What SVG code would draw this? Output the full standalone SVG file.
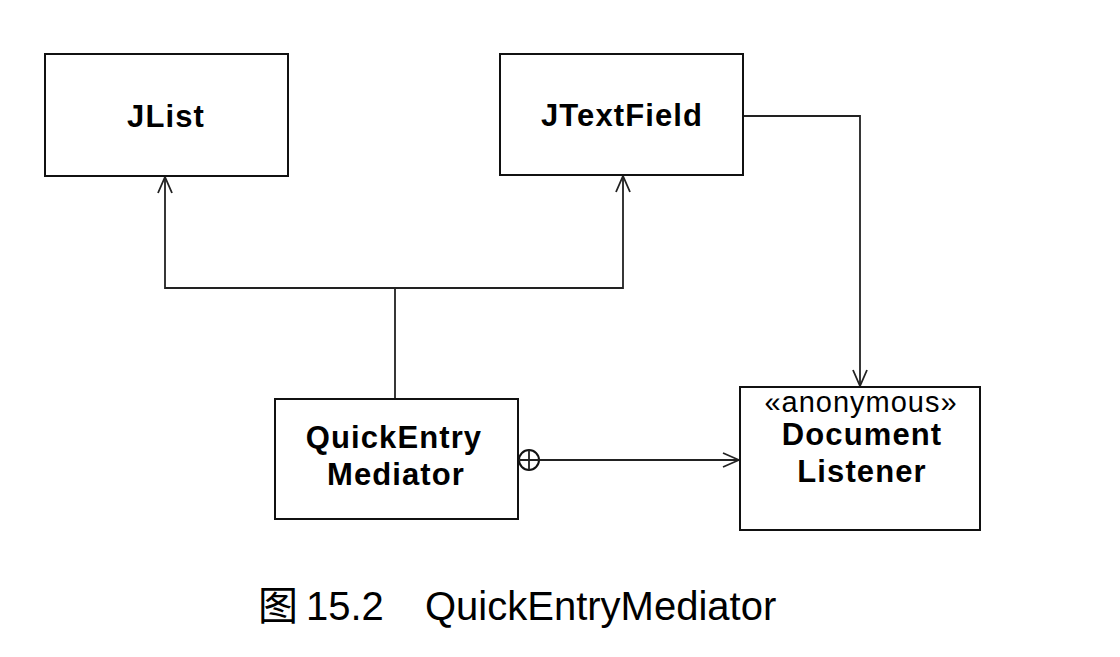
<svg xmlns="http://www.w3.org/2000/svg" width="1120" height="657" viewBox="0 0 1120 657">
<style>
.box{fill:#fff;stroke:#111;stroke-width:2}
.ln{fill:none;stroke:#222;stroke-width:1.8}
.t{font-family:"Liberation Sans",Arial,sans-serif;font-weight:bold;font-size:31px;letter-spacing:1.1px;fill:#000;text-anchor:middle}
.s{font-family:"Liberation Sans",Arial,sans-serif;font-size:29px;letter-spacing:1px;fill:#000;text-anchor:middle}
.cap{font-family:"Liberation Sans","Noto Sans CJK SC",Arial,sans-serif;font-size:40px;fill:#000}
</style>
<defs>
<marker id="open" viewBox="0 0 20 20" refX="18" refY="10" markerWidth="20" markerHeight="20" markerUnits="userSpaceOnUse" orient="auto">
<path d="M2,3 L18,10 L2,17" fill="none" stroke="#222" stroke-width="1.8"/>
</marker>
</defs>
<rect width="1120" height="657" fill="#fff"/>
<g id="connectors">
<path class="ln" d="M395,398 V288 H165 V177" marker-end="url(#open)"/>
<path class="ln" d="M395,288 H623 V176" marker-end="url(#open)"/>
<path class="ln" d="M743,116 H860 V386" marker-end="url(#open)"/>
<path class="ln" d="M540,460 H739" marker-end="url(#open)"/>
<circle cx="529" cy="460" r="10" fill="#fff" stroke="#111" stroke-width="2"/>
<path class="ln" d="M519,460 H539 M529,450 V470" stroke-width="2"/>
</g>
<g id="jlist">
<rect class="box" x="45" y="54" width="243" height="122"/>
<text class="t" x="166" y="127">JList</text>
</g>
<g id="jtextfield">
<rect class="box" x="500" y="54" width="243" height="121"/>
<text class="t" x="622" y="126">JTextField</text>
</g>
<g id="quickentrymediator">
<rect class="box" x="275" y="399" width="243" height="120"/>
<text class="t" x="394" y="448">QuickEntry</text>
<text class="t" x="396" y="485">Mediator</text>
</g>
<g id="documentlistener">
<rect class="box" x="740" y="387" width="240" height="143"/>
<text class="s" x="861" y="412">«anonymous»</text>
<text class="t" x="862" y="445">Document</text>
<text class="t" x="862" y="482">Listener</text>
</g>
<text class="cap" x="258" y="620">图<tspan x="306">15.2</tspan><tspan x="425">QuickEntryMediator</tspan></text>
</svg>
